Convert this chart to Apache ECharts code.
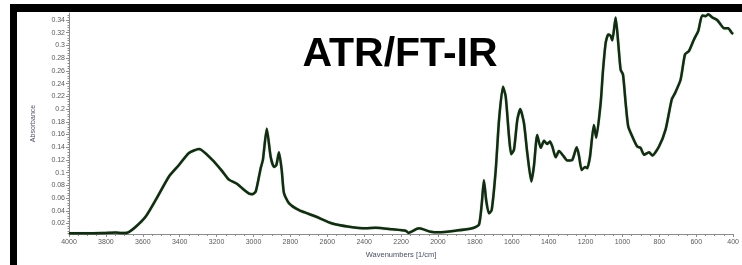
<!DOCTYPE html>
<html>
<head>
<meta charset="utf-8">
<script src="https://cdn.jsdelivr.net/npm/echarts@6/dist/echarts.min.js"></script>
<style>
  html, body { margin: 0; padding: 0; background: #fff; }
  #frame {
    position: absolute; left: 10px; top: 4px;
    width: 760px; height: 255px;
    border: 7px solid #000; border-top-width: 8px; background: #fff;
  }
  #chart { position: absolute; left: 0; top: 0; width: 742px; height: 265px; }
</style>
</head>
<body>
<div id="frame"></div>
<div id="chart"></div>
<script>
// spectrum
const wavenumbers = [4000, 3892, 3810, 3747, 3718, 3684, 3638, 3584, 3530, 3458, 3404, 3350, 3295,
  3223, 3169, 3133, 3088, 3052, 3024, 3007, 2988, 2961, 2949, 2928, 2907, 2889, 2876, 2862, 2847,
  2835, 2808, 2753, 2663, 2573, 2482, 2392, 2338, 2248, 2175, 2161, 2103, 2040, 1995, 1904, 1814,
  1778, 1763, 1751, 1738, 1724, 1709, 1687, 1669, 1648, 1633, 1615, 1603, 1588, 1570, 1554, 1534,
  1516, 1494, 1480, 1462, 1443, 1425, 1408, 1393, 1380, 1362, 1344, 1322, 1299, 1272, 1248, 1236,
  1221, 1203, 1191, 1176, 1155, 1142, 1118, 1106, 1091, 1077, 1064, 1055, 1037, 1023, 1010, 997,
  983, 969, 947, 920, 902, 883, 856, 838, 802, 766, 733, 715, 685, 661, 640, 613, 589, 568, 549,
  535, 513, 487, 468, 450, 427, 408, 400]
const absorbance = [0.0045, 0.0048, 0.005, 0.006, 0.005, 0.0055, 0.015, 0.031, 0.057, 0.094, 0.112, 0.131, 0.137,
  0.12, 0.102, 0.089, 0.082, 0.073, 0.067, 0.066, 0.07, 0.107, 0.12, 0.169, 0.125, 0.109, 0.112, 0.132, 0.104,
  0.068, 0.052, 0.041, 0.031, 0.02, 0.015, 0.0125, 0.0134, 0.011, 0.0087, 0.0055, 0.0125, 0.0071, 0.0061, 0.0087, 0.0125,
  0.018, 0.05, 0.088, 0.055, 0.036, 0.041, 0.104, 0.183, 0.235, 0.22, 0.157, 0.129, 0.136, 0.183, 0.2, 0.178,
  0.131, 0.086, 0.11, 0.159, 0.139, 0.15, 0.145, 0.149, 0.141, 0.124, 0.134, 0.127, 0.119, 0.12, 0.14, 0.127,
  0.104, 0.109, 0.107, 0.125, 0.175, 0.155, 0.21, 0.259, 0.304, 0.317, 0.315, 0.308, 0.344, 0.304, 0.262, 0.254,
  0.21, 0.173, 0.157, 0.141, 0.139, 0.128, 0.132, 0.127, 0.141, 0.168, 0.215, 0.225, 0.246, 0.286, 0.291, 0.309, 0.323, 0.347, 0.346,
  0.349, 0.344, 0.34, 0.333, 0.327, 0.327, 0.32, 0.318]

const xTicks = []
for (let w = 400; w <= 4000; w += 200) xTicks.push(w)
const xMinor = []
for (let w = 400; w <= 4000; w += 50) xMinor.push(w)
const yTicks = []
for (let i = 1; i <= 17; i++) yTicks.push(+(i * 0.02).toFixed(2))
const yMinor = []
for (let i = 1; i <= 87; i++) yMinor.push(+(i * 0.004).toFixed(3))

const chart = echarts.init(document.getElementById('chart'))
const font = 'Liberation Sans, Arial, sans-serif'
const labelStyle = { color: '#595959', fontSize: 7, fontFamily: font }
const yMin = 0.0035, yMax = 0.351

const option = {
  animation: false,
  grid: { left: 69, right: 8, top: 13, bottom: 31 },
  title: {
    text: 'ATR/FT-IR', left: 395, top: 29, textAlign: 'center',
    textStyle: { fontSize: 41, fontWeight: 'bold', color: '#000', fontFamily: font }
  },
  xAxis: [{
    type: 'value', inverse: true, min: 400, max: 4000,
    name: 'Wavenumbers [1/cm]', nameLocation: 'middle', nameGap: 17,
    nameTextStyle: { color: '#4a5060', fontSize: 7.5, fontFamily: font },
    axisLine: { lineStyle: { color: '#8c8c8c', width: 1 } },
    axisTick: { customValues: xTicks, length: 3, lineStyle: { color: '#8c8c8c' } },
    axisLabel: { customValues: xTicks, margin: 5, formatter: v => String(v), ...labelStyle },
    splitLine: { show: false }
  }, {
    type: 'value', inverse: true, min: 400, max: 4000, position: 'bottom',
    axisLine: { show: false },
    axisTick: { customValues: xMinor, length: 2, lineStyle: { color: '#8c8c8c' } },
    axisLabel: { show: false },
    splitLine: { show: false }
  }],
  yAxis: [{
    type: 'value', min: yMin, max: yMax,
    name: 'Absorbance', nameLocation: 'middle', nameGap: 32, nameRotate: 90,
    nameTextStyle: { color: '#4a5060', fontSize: 7, fontFamily: font },
    axisLine: { show: true, lineStyle: { color: '#8c8c8c', width: 1 } },
    axisTick: { show: true, customValues: yTicks, length: 3, lineStyle: { color: '#8c8c8c' } },
    axisLabel: { customValues: yTicks, margin: 4, formatter: v => String(v), ...labelStyle },
    splitLine: { show: false }
  }, {
    type: 'value', min: yMin, max: yMax, position: 'left',
    axisLine: { show: false },
    axisTick: { show: true, customValues: yMinor, length: 1.5, lineStyle: { color: '#8c8c8c' } },
    axisLabel: { show: false },
    splitLine: { show: false }
  }],
  series: [{
    type: 'line',
    data: wavenumbers.map((w, i) => [w, absorbance[i]]),
    showSymbol: false,
    smooth: 0.2,
    lineStyle: { color: '#132a13', width: 2.5, shadowColor: 'rgba(40,120,40,0.5)', shadowBlur: 1 }
  }]
}
chart.setOption(option)
</script>
</body>
</html>
